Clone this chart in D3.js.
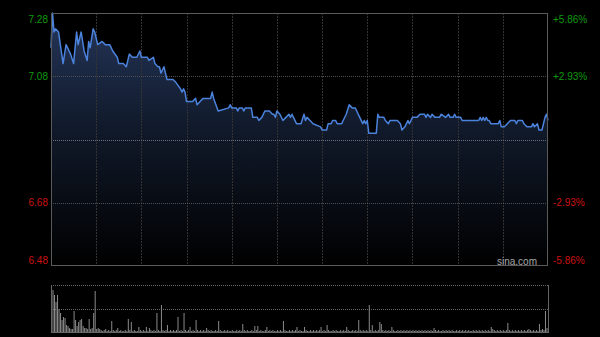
<!DOCTYPE html>
<html>
<head>
<meta charset="utf-8">
<script src="https://cdn.jsdelivr.net/npm/d3@7"></script>
<style>
  html, body { margin: 0; padding: 0; background: #000; }
  svg { display: block; font-family: Arial, "Liberation Sans", sans-serif; }
</style>
</head>
<body>
<svg id="chart" width="600" height="337"></svg>
<script>
// minute of the session (0..330) and last price at that minute
var minutes = [0,1,2,3,5,8,10,13,15,17,18,20,22,24,25,26,28,29,31,34,36,39,41,44,45,48,50,52,54,57,
    59,60,64,65,68,69,71,72,73,75,76,77,81,83,86,87,88,89,90,94,96,97,99,101,106,107,108,111,118,119,
    120,123,124,125,127,128,129,133,134,137,138,140,142,145,147,148,149,150,152,154,156,158,159,160,161,163,166,168,169,170,
    172,174,179,180,183,184,186,187,189,190,193,194,196,198,200,202,203,205,207,208,209,210,211,216,217,218,221,222,224,225,
    230,232,233,235,237,238,240,243,245,248,249,250,252,253,255,258,259,262,264,265,267,268,269,272,273,284,285,286,287,288,
    289,290,291,292,297,298,299,301,303,305,308,309,310,313,314,316,319,320,321,323,324,326,328,329,330];
var prices = [7.17,7.28,7.22,7.23,7.22,7.12,7.18,7.15,7.12,7.22,7.18,7.22,7.16,7.13,7.19,7.17,7.23,7.22,7.18,7.19,
    7.18,7.18,7.16,7.14,7.12,7.12,7.11,7.15,7.14,7.14,7.16,7.14,7.14,7.13,7.14,7.12,7.11,7.11,7.09,7.11,
    7.09,7.07,7.07,7.06,7.04,7.03,7.04,7.03,7.00,7.00,7.01,6.99,7.00,7.01,7.01,7.03,7.01,6.97,6.98,6.99,
    6.98,6.98,6.97,6.98,6.98,6.97,6.98,6.98,6.95,6.95,6.94,6.95,6.97,6.97,6.96,6.96,6.95,6.97,6.96,6.94,
    6.95,6.96,6.95,6.96,6.95,6.93,6.93,6.96,6.94,6.95,6.94,6.93,6.92,6.91,6.91,6.93,6.93,6.94,6.94,6.93,
    6.93,6.94,6.96,6.99,6.98,6.98,6.97,6.95,6.93,6.94,6.93,6.94,6.90,6.90,6.96,6.95,6.95,6.94,6.93,6.94,
    6.94,6.93,6.91,6.92,6.94,6.93,6.95,6.95,6.96,6.96,6.95,6.96,6.95,6.96,6.95,6.95,6.96,6.95,6.96,6.95,
    6.95,6.96,6.95,6.95,6.94,6.94,6.95,6.94,6.95,6.94,6.95,6.94,6.94,6.93,6.93,6.94,6.92,6.92,6.93,6.94,
    6.94,6.93,6.94,6.94,6.93,6.92,6.92,6.93,6.92,6.93,6.91,6.91,6.95,6.96,6.94];

// volume per minute (thousand shares)
var volumes = [
    470,420,370,300,370,230,190,120,150,140,70,60,40,30,30,210,120,60,100,120,
    130,60,40,40,30,130,30,40,190,410,30,40,30,20,10,20,30,10,20,10,
    110,20,10,20,40,10,20,10,10,20,10,130,20,100,10,20,10,10,50,20,
    10,20,10,50,10,40,20,10,20,10,190,20,10,270,20,10,20,70,10,20,
    10,20,10,20,150,10,20,10,190,20,10,20,50,10,20,10,120,20,10,20,
    10,20,10,40,20,10,20,10,10,20,10,110,20,10,10,20,10,20,10,10,
    20,10,10,20,10,20,10,80,20,10,20,10,10,20,10,60,20,60,10,20,
    10,10,20,50,10,20,10,20,10,10,20,10,20,10,110,20,10,10,20,10,
    20,10,20,50,10,20,10,10,50,20,10,10,20,10,20,10,20,10,20,50,
    10,20,10,70,20,10,10,20,10,20,10,10,20,10,20,10,50,20,10,10,
    20,10,20,10,120,20,10,20,10,20,10,270,20,70,10,20,10,20,100,80,
    20,10,20,10,20,10,50,20,10,10,20,10,20,10,20,10,20,10,20,10,
    20,10,20,10,20,10,20,10,20,10,20,10,20,10,40,20,10,20,10,10,
    20,10,20,10,20,10,20,10,10,20,10,20,10,20,10,20,10,20,10,10,
    20,10,20,10,20,10,20,10,20,10,20,10,50,30,20,10,20,10,20,10,
    20,10,20,90,20,10,20,10,20,10,20,10,20,10,20,10,20,30,20,10,
    20,10,20,10,80,20,30,20,210,40,20];

var prevClose = 6.88;
var priceTicks = [7.28, 7.08, 6.68, 6.48];
var pctTicks = ['+5.86%', '+2.93%', '-2.93%', '-5.86%'];
var timeGrid = [30, 60, 90, 120, 150, 180, 210, 240, 270, 300];

var svg = d3.select('#chart');
var plotL = 51, plotR = 548, plotT = 13, plotB = 266;
var volT = 285, volB = 332;

var x = d3.scaleLinear().domain([0, 330]).range([plotL, plotR]);
var y = d3.scaleLinear().domain([6.48, 7.28]).range([plotB, plotT]);
var yv = d3.scaleLinear().domain([0, d3.max(volumes)]).range([volB, volT]);

// gradient under the price line
var defs = svg.append('defs');
var grad = defs.append('linearGradient')
    .attr('id', 'areaGrad')
    .attr('gradientUnits', 'userSpaceOnUse')
    .attr('x1', 0).attr('y1', plotT).attr('x2', 0).attr('y2', plotB);
grad.append('stop').attr('offset', '0%').attr('stop-color', '#25365a');
grad.append('stop').attr('offset', '45%').attr('stop-color', '#111a2b');
grad.append('stop').attr('offset', '100%').attr('stop-color', '#000000');

var data = minutes.map(function(m, i) { return {m: m, p: prices[i]}; });

svg.append('path')
    .datum(data)
    .attr('fill', 'url(#areaGrad)')
    .attr('d', d3.area()
        .x(function(d) { return x(d.m); })
        .y0(plotB)
        .y1(function(d) { return y(d.p); }));

// vertical grid
svg.append('g')
    .selectAll('line')
    .data(timeGrid)
    .join('line')
    .attr('x1', function(d) { return Math.round(x(d)) + 0.5; })
    .attr('x2', function(d) { return Math.round(x(d)) + 0.5; })
    .attr('y1', plotT).attr('y2', plotB)
    .attr('stroke', '#333')
    .attr('stroke-dasharray', '2,1');

// horizontal grid
svg.append('g')
    .selectAll('line')
    .data([7.08, 6.68, prevClose])
    .join('line')
    .attr('x1', plotL).attr('x2', plotR)
    .attr('y1', function(d) { return Math.round(y(d)) + 0.5; })
    .attr('y2', function(d) { return Math.round(y(d)) + 0.5; })
    .attr('stroke', function(d) { return d === prevClose ? '#6a6f78' : '#505050'; })
    .attr('stroke-dasharray', '1,1');

// price line
svg.append('path')
    .datum(data)
    .attr('fill', 'none')
    .attr('stroke', '#4b82dc')
    .attr('stroke-width', 1.5)
    .attr('stroke-linejoin', 'round')
    .attr('d', d3.line()
        .x(function(d) { return x(d.m); })
        .y(function(d) { return y(d.p); }));

// frame
svg.append('rect')
    .attr('x', plotL + 0.5).attr('y', plotT + 0.5)
    .attr('width', plotR - plotL - 1).attr('height', plotB - plotT - 1)
    .attr('fill', 'none')
    .attr('stroke', '#5a5a5a');

// axis labels
var labelY = function(d, i) {
    var v = y(d);
    if (i === 0) v += 6;
    if (i === priceTicks.length - 1) v -= 6;
    return v;
};
var color = function(d) { return d > prevClose ? '#0f9a0f' : '#cc1111'; };

svg.append('g')
    .selectAll('text')
    .data(priceTicks)
    .join('text')
    .attr('x', 48)
    .attr('y', labelY)
    .attr('dy', '0.35em')
    .attr('text-anchor', 'end')
    .attr('font-size', 10)
    .attr('fill', color)
    .text(function(d) { return d.toFixed(2); });

svg.append('g')
    .selectAll('text')
    .data(priceTicks)
    .join('text')
    .attr('x', 553)
    .attr('y', labelY)
    .attr('dy', '0.35em')
    .attr('font-size', 10)
    .attr('fill', color)
    .text(function(d, i) { return pctTicks[i]; });

svg.append('text')
    .attr('x', 537).attr('y', 261)
    .attr('dy', '0.35em')
    .attr('text-anchor', 'end')
    .attr('font-size', 10)
    .attr('fill', '#a8a8a8')
    .text('sina.com');

// volume panel
svg.append('g')
    .selectAll('line')
    .data([volT, (volT + volB) / 2])
    .join('line')
    .attr('x1', plotL).attr('x2', plotR)
    .attr('y1', function(d) { return Math.round(d) + 0.5; })
    .attr('y2', function(d) { return Math.round(d) + 0.5; })
    .attr('stroke', '#666')
    .attr('stroke-dasharray', '1,1');

svg.append('g')
    .selectAll('rect')
    .data(volumes)
    .join('rect')
    .attr('x', function(d, i) { return x(i); })
    .attr('y', function(d) { return yv(d); })
    .attr('width', 1)
    .attr('height', function(d) { return volB - yv(d); })
    .attr('fill', '#8a8a8a');

svg.append('g')
    .selectAll('line')
    .data([plotL, plotR])
    .join('line')
    .attr('x1', function(d) { return d + 0.5; })
    .attr('x2', function(d) { return d + 0.5; })
    .attr('y1', volT).attr('y2', volB)
    .attr('stroke', '#666');

svg.append('line')
    .attr('x1', plotL).attr('x2', plotR + 1)
    .attr('y1', volB + 0.5).attr('y2', volB + 0.5)
    .attr('stroke', '#666');
</script>
</body>
</html>
